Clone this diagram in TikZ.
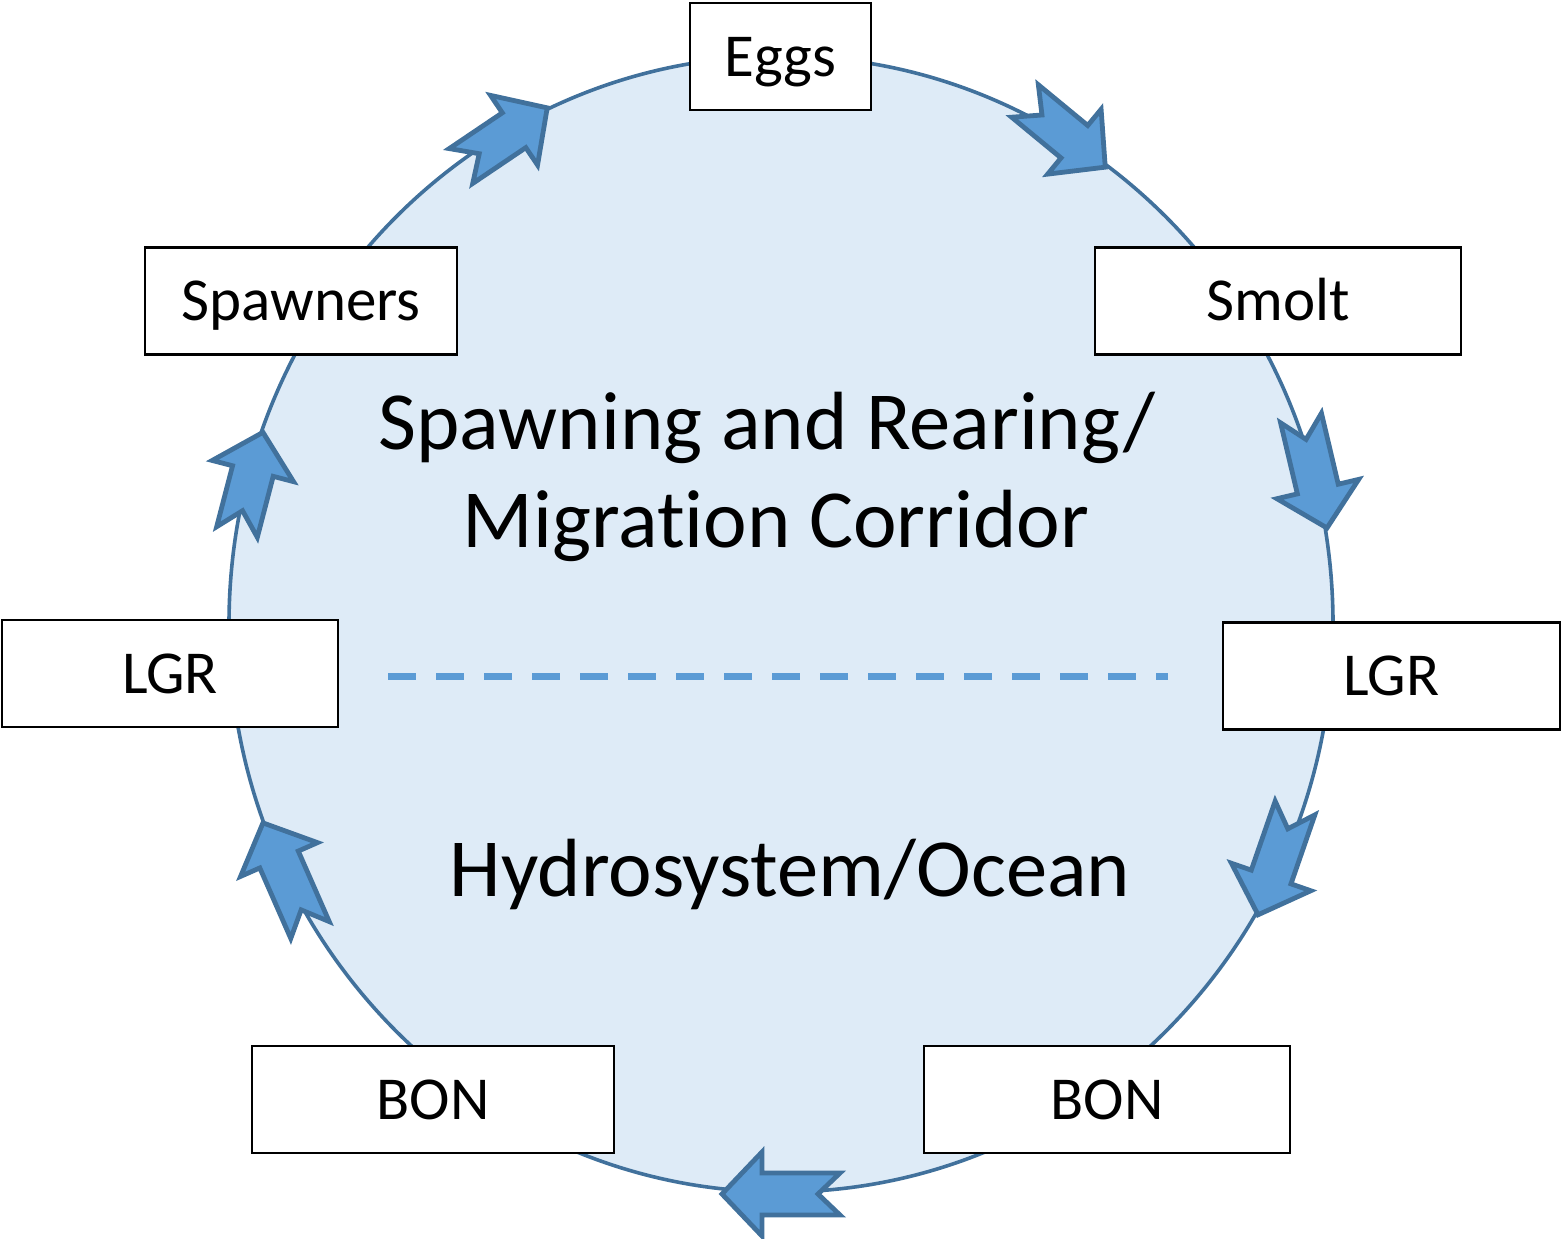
\documentclass[tikz,border=0pt]{standalone}
\usepackage{fontspec}
\setmainfont{Carlito}[Ligatures=NoCommon]
\usepackage{tikz}
\definecolor{CFill}{HTML}{DEEBF7}
\definecolor{CLine}{HTML}{41719C}
\definecolor{CArrow}{HTML}{5B9BD5}

% notched block arrow: tail centre, angle, length
\newcommand{\cyclearrow}[3]{%
  \draw[flowarrow,shift={#1},rotate=#2]
    (0,-21) -- (#3-40,-21) -- (#3-40,-42) -- (#3,0) -- (#3-40,42)
    -- (#3-40,21) -- (0,21) -- (22,0) -- cycle;}

\begin{document}
\begin{tikzpicture}[
  x=0.5pt,y=-0.5pt,
  every node/.style={font=\fontsize{30.5}{36}\selectfont},
  stage/.style={draw=black,line width=1.2pt,fill=white,minimum height=53.5pt,
    text height=23pt,text depth=3.5pt,inner sep=0pt},
  flowarrow/.style={draw=CLine,line width=2.4pt,fill=CArrow},
  zone/.style={font=\fontsize{41.3}{49}\selectfont,align=center}
]
  \useasboundingbox (0,0) rectangle (1562,1238);
  \draw[CLine,fill=CFill,line width=1.8pt] (781,624)
    ellipse [x radius=276pt,y radius=284pt];

  \node[zone] (upper) at (776,477)
    {Spawning and Rearing/\hspace*{0.22em}\\Migration Corridor};
  \node[zone,anchor=base] (lower) at (790,896) {Hydrosystem/Ocean};

  \coordinate (divL) at (388,676);
  \coordinate (divR) at (1168,676);
  \draw[CArrow,line width=3.5pt,dash pattern=on 14pt off 10pt] (divL) -- (divR);

  \cyclearrow{(1025,101)}{-39.5}{104}
  \cyclearrow{(1301,418)}{-76.7}{113}
  \cyclearrow{(1295,808)}{-109.1}{113}
  \cyclearrow{(840,1194)}{180}{118}
  \cyclearrow{(310,930)}{113.7}{117}
  \cyclearrow{(237,532)}{75.4}{103}
  \cyclearrow{(461,166)}{34}{104}

  \node[stage,minimum width=90.5pt] (eggs) at (780.5,56.5) {Eggs};
  \node[stage,minimum width=183pt] (smolt) at (1278,301) {Smolt};
  \node[stage,minimum width=168.5pt] (lgrR) at (1391.5,676) {LGR};
  \node[stage,minimum width=183pt] (bonR) at (1107,1099.5) {BON};
  \node[stage,minimum width=181pt] (bonL) at (433,1099.5) {BON};
  \node[stage,minimum width=168pt] (lgrL) at (170,673.5) {LGR};
  \node[stage,minimum width=156pt] (spawners) at (301,301) {Spawners};
\end{tikzpicture}
\end{document}
